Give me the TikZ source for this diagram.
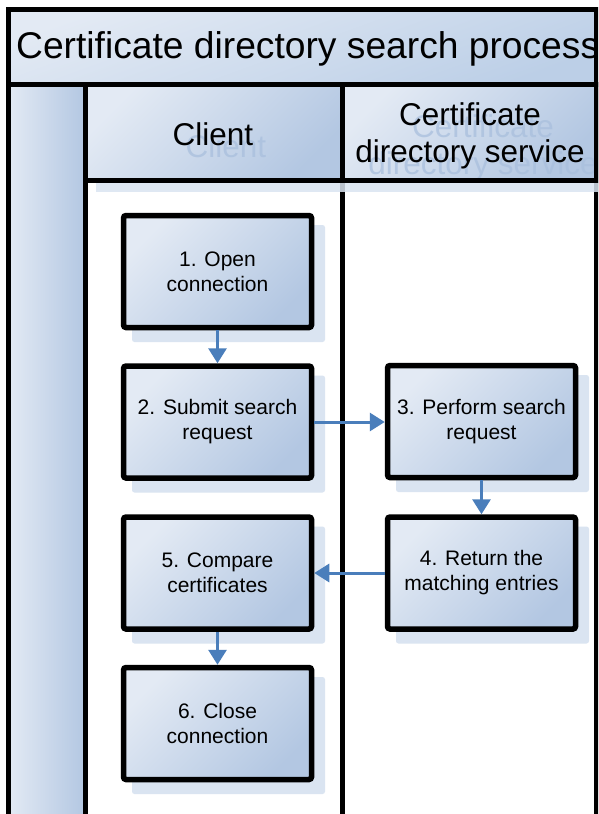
\documentclass[tikz,border=0pt]{standalone}
\usepackage{fontspec}
\setmainfont{Liberation Sans}
\usetikzlibrary{arrows.meta}
\definecolor{lightb}{HTML}{E3EAF4}
\definecolor{darkb}{HTML}{B3C7E2}
\definecolor{titlelo}{HTML}{BCCFE7}
\definecolor{shad}{HTML}{DAE4F1}
\definecolor{arrowb}{HTML}{4A7EBB}
\definecolor{ghost}{HTML}{A9BFDD}
\begin{document}
\begin{tikzpicture}[x=1pt,y=-1pt,
  stepbox/.style={draw=black, line width=5.5pt, rounded corners=2.5pt,
    minimum width=188pt, minimum height=112pt,
    top color=lightb, bottom color=darkb, shading angle=45,
    align=center, font=\fontsize{21}{25}\selectfont, inner sep=0pt},
  shadowbox/.style={fill=shad, rounded corners=2.5pt,
    minimum width=193pt, minimum height=117pt, inner sep=0pt},
  flow/.style={draw=arrowb, line width=3pt, -{Triangle[length=15pt,width=18pt]}},
  frame/.style={draw=black, line width=5pt},
  hdrfill/.style={top color=lightb, bottom color=darkb, shading angle=45},
  hdrtext/.style={font=\fontsize{31.5}{37}\selectfont, align=center, inner sep=0pt},
  ghosttext/.style={hdrtext, text=ghost, opacity=0.75}
]
\useasboundingbox (0,0) rectangle (598,814);
\clip (0,0) rectangle (598,814);

% title
\path[top color=lightb, bottom color=titlelo, shading angle=20] (8,9) rectangle (596,84);
\draw[frame] (8,9) rectangle (596,84);
\node[anchor=base west, inner sep=0pt, font=\fontsize{37.2}{44}\selectfont] (title) at (16,58) {Certificate directory search process};

% left column
\path[left color=lightb, right color=darkb] (8,84) rectangle (85,830);
\draw[frame] (8,84) rectangle (85,830);

% lane bodies
\draw[frame, fill=white] (85,84) rectangle (342,830);
\draw[frame, fill=white] (342,84) rectangle (596,830);

% header shadows
\fill[shad, opacity=0.85] (96,96) rectangle (353,192);
\fill[shad, opacity=0.85] (353,96) rectangle (607,192);

% headers
\path[hdrfill] (85,84) rectangle (342,180);
\path[hdrfill] (342,84) rectangle (596,180);

\node[ghosttext] (gclient) at (226,146) {Client};
\node[ghosttext] (gservice) at (483,148) {Certificate\\directory service};

\draw[frame] (85,84) rectangle (342,180);
\draw[frame] (342,84) rectangle (596,180);

\node[hdrtext] (client) at (213,134) {Client};
\node[hdrtext] (service) at (470,136) {Certificate\\directory service};

% box shadows
\node[shadowbox] (s1) at (228.5,283.5) {};
\node[shadowbox] (s2) at (228.5,434) {};
\node[shadowbox] (s3) at (492.5,433.5) {};
\node[shadowbox] (s4) at (492.5,585) {};
\node[shadowbox] (s5) at (228.5,585) {};
\node[shadowbox] (s6) at (228.5,735.5) {};

% boxes
\node[stepbox] (b1) at (217.5,271.5) {1. Open\\connection};
\node[stepbox] (b2) at (217.5,422) {2. Submit search\\request};
\node[stepbox] (b3) at (481.5,421.5) {3. Perform search\\request};
\node[stepbox] (b4) at (481.5,573) {4. Return the\\matching entries};
\node[stepbox] (b5) at (217.5,573) {5. Compare\\certificates};
\node[stepbox] (b6) at (217.5,723.5) {6. Close\\connection};

% connectors
\draw[flow] (b1.south) -- (b2.north);
\draw[flow] (b2.east) -- (b3.west |- b2.east);
\draw[flow] (b3.south) -- (b4.north);
\draw[flow] (b4.west) -- (b5.east |- b4.west);
\draw[flow] (b5.south) -- (b6.north);
\end{tikzpicture}
\end{document}
